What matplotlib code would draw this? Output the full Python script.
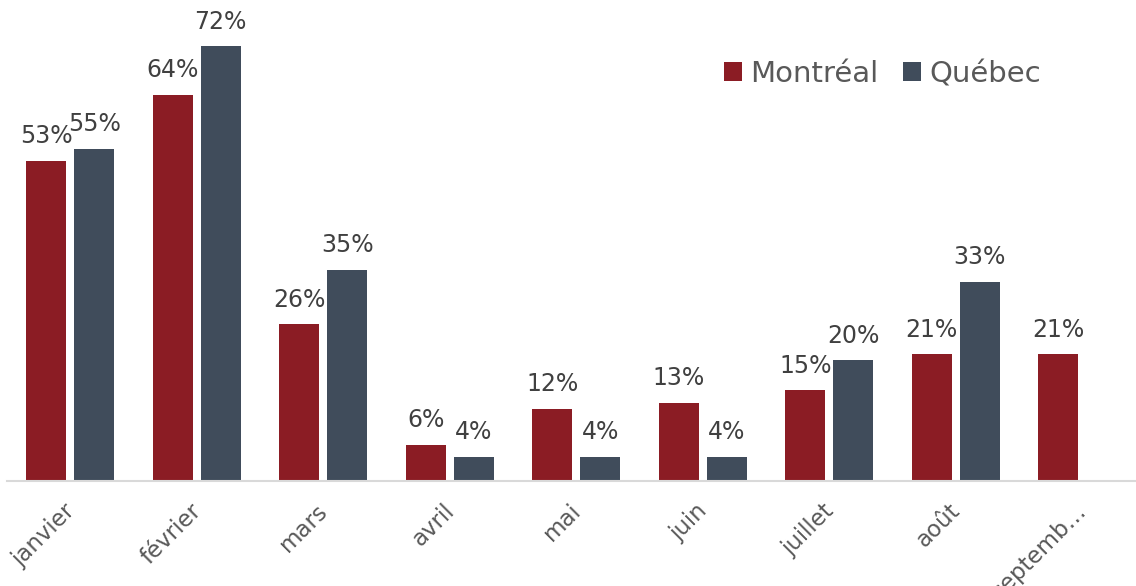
import matplotlib.pyplot as plt
import matplotlib.transforms as mtransforms
import numpy as np

# monthly share per city (percent)
mois = ['janvier', 'février', 'mars', 'avril', 'mai', 'juin', 'juillet', 'août', 'septemb…']
montreal = [53, 64, 26, 6, 12, 13, 15, 21, 21]
quebec = [55, 72, 35, 4, 4, 4, 20, 33, None]

c_mtl = '#8B1C24'
c_qc = '#404C5B'

plt.rcParams['font.family'] = ['DejaVu Sans']

fig = plt.figure(figsize=(11.36, 5.86), dpi=100)
ax = fig.add_axes([7 / 1136, 105 / 586, 1 - 7 / 1136, 477 / 586])

x = np.arange(len(mois))
w = 0.316
off = 0.19

qv = [v if v is not None else 0 for v in quebec]
ax.bar(x - off, montreal, w, color=c_mtl, label='Montréal')
ax.bar(x + off, qv, w, color=c_qc, label='Québec')

# data labels
for xi, v in zip(x, montreal):
    ax.annotate(f'{v}%', (xi - off, v), xytext=(0, 9), textcoords='offset points',
                ha='center', va='bottom', fontsize=17, color='#404040')
for xi, v in zip(x, quebec):
    if v is None:
        continue
    ax.annotate(f'{v}%', (xi + off, v), xytext=(0, 9), textcoords='offset points',
                ha='center', va='bottom', fontsize=17, color='#404040')

ax.set_xlim(-0.5, -0.5 + (1136 - 7) / 126.5)
ax.set_ylim(0, 79)
ax.set_yticks([])
ax.set_xticks(x)
ax.set_xticklabels(mois, rotation=45, ha='right', rotation_mode='anchor',
                   fontsize=16.5, color='#595959')
ax.tick_params(axis='x', length=0, pad=13)
shift = mtransforms.ScaledTranslation(-7 / 100, 0, fig.dpi_scale_trans)
for lbl in ax.get_xticklabels():
    lbl.set_transform(lbl.get_transform() + shift)
for s in ['top', 'right', 'left']:
    ax.spines[s].set_visible(False)
ax.spines['bottom'].set_color('#D9D9D9')
ax.spines['bottom'].set_linewidth(1.5)

leg = ax.legend(loc='center left', bbox_to_anchor=(724 / 1136, 1 - 74 / 586),
                bbox_transform=fig.transFigure, ncol=2, frameon=False,
                fontsize=21, handlelength=0.6, handleheight=0.6,
                handletextpad=0.3, columnspacing=0.85, borderaxespad=0,
                borderpad=0)
for t in leg.get_texts():
    t.set_color('#595959')

fig.savefig('out.png', dpi=100)
